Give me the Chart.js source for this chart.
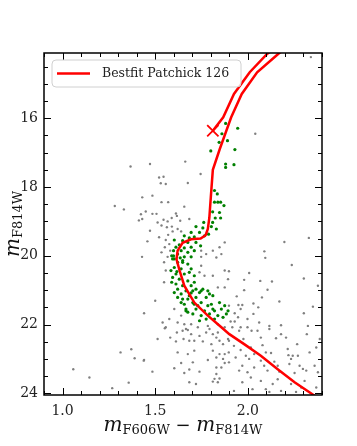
<!DOCTYPE html>
<html>
<head>
<meta charset="utf-8">
<script src="https://cdn.jsdelivr.net/npm/chart.js@4.4.1/dist/chart.umd.min.js"></script>
<style>
  html, body { margin: 0; padding: 0; background: #fff; }
  canvas { display: block; }
</style>
</head>
<body>
<canvas id="cmd" width="357" height="446"></canvas>
<script>
// ticks
const xTicks = [1.0, 1.5, 2.0];
const yTicks = [16, 18, 20, 22, 24];

// best fit isochrone (colour, magnitude), tip goes above the plot top
const isochrone = [
  [2.40, 24.25], [2.36, 24.07], [2.252, 23.68], [2.161, 23.30], [2.07, 22.91],
  [1.98, 22.57], [1.90, 22.28], [1.857, 22.08], [1.784, 21.74], [1.711, 21.36],
  [1.657, 20.87], [1.632, 20.44], [1.615, 20.10], [1.621, 19.85], [1.648, 19.62],
  [1.694, 19.52], [1.745, 19.50], [1.772, 19.40], [1.784, 19.22], [1.792, 18.90],
  [1.80, 18.30], [1.811, 17.50], [1.848, 16.90], [1.91, 15.97], [1.967, 15.29],
  [2.05, 14.66], [2.165, 14.12], [2.22, 13.90],
  [2.17, 13.88], [2.105, 14.12], [2.01, 14.66], [1.925, 15.29], [1.867, 15.97],
  [1.811, 16.36]
];
const endPoint = [[1.811, 16.36]];

// member stars (green)
const members = [
  [1.88,16.15],[1.945,16.29],[1.86,16.45],[1.89,16.65],[1.845,16.7],[1.93,16.91],[1.80,16.95],
  [1.88,17.33],[1.88,17.43],[1.925,17.35],
  [1.82,18.1],[1.835,18.2],[1.82,18.44],[1.838,18.44],[1.853,18.44],[1.871,18.54],[1.81,18.72],
  [1.847,18.74],[1.824,18.9],[1.853,18.9],[1.762,19.03],[1.81,19.03],[1.83,19.22],[1.803,19.15],
  [1.757,19.19],[1.72,19.15],[1.739,19.32],[1.694,19.32],[1.766,19.42],[1.788,19.37],[1.657,19.42],
  [1.711,19.45],[1.684,19.48],[1.603,19.54],[1.648,19.56],[1.676,19.61],[1.72,19.61],[1.745,19.71],
  [1.63,19.68],[1.612,19.75],[1.657,19.77],[1.694,19.75],[1.599,19.85],[1.64,19.85],[1.676,19.90],
  [1.711,19.85],[1.621,19.95],[1.589,20.0],[1.657,20.03],[1.694,20.03],[1.635,20.06],[1.603,20.09],
  [1.594,20.09],[1.621,20.19],[1.648,20.14],[1.676,20.24],[1.603,20.34],[1.64,20.38],[1.694,20.38],
  [1.612,20.53],[1.657,20.53],[1.711,20.58],[1.594,20.63],[1.63,20.68],[1.676,20.73],[1.612,20.82],
  [1.648,20.87],[1.694,20.87],[1.621,20.97],[1.666,21.02],[1.72,20.97],[1.757,20.97],[1.64,21.11],
  [1.694,21.08],[1.739,21.07],[1.784,21.02],[1.621,21.21],[1.676,21.26],[1.72,21.21],[1.775,21.21],
  [1.811,21.16],[1.657,21.41],[1.703,21.36],[1.748,21.36],[1.803,21.41],[1.847,21.36],[1.666,21.55],
  [1.72,21.55],[1.766,21.60],[1.811,21.55],[1.857,21.55],[1.703,21.69],[1.748,21.74],[1.793,21.69],
  [1.838,21.74],[1.884,21.69],[1.775,21.84],[1.82,21.84],[1.739,21.89],[1.585,20.43],[1.617,20.46],
  [1.684,20.48],[1.589,20.77],[1.711,20.77],[1.603,21.07],[1.648,21.26],[1.684,21.16],[1.73,21.45],
  [1.784,21.45],[1.875,21.45],[1.64,21.36],[1.676,21.64],[1.893,21.60],[1.866,21.79],
  [1.599,20.0],[1.648,20.19],[1.703,21.02],[1.748,21.02],[1.793,21.11],[1.82,21.6],[1.666,21.6],
  [1.711,21.41]
];

// field stars (grey)
const field = [
  [2.34,14.22],[2.04,16.45],
  [1.472,17.33],[1.662,17.26],[1.521,17.72],[1.545,17.70],[1.53,17.89],[1.557,17.91],[1.676,17.88],
  [1.745,17.62],[1.485,18.25],[1.43,18.30],[1.534,18.44],[1.57,18.44],[1.657,18.57],[1.449,18.71],
  [1.485,18.78],[1.507,18.78],[1.612,18.77],[1.617,18.84],[1.589,18.9],[1.43,18.93],[1.545,18.95],
  [1.513,19.03],[1.567,19.0],[1.635,18.98],[1.684,18.93],[1.534,19.12],[1.563,19.17],[1.59,19.15],
  [1.621,19.22],[1.64,19.29],[1.472,19.27],[1.594,19.29],[1.57,19.39],[1.521,19.46],[1.557,19.54],
  [1.458,19.58],[1.576,19.66],[1.552,19.75],[1.581,19.85],[1.534,19.90],[1.567,20.03],[1.748,19.85],
  [1.775,19.95],[1.811,19.85],[1.857,19.95],[1.875,19.61],[1.847,19.75],[1.748,20.03],[1.83,20.05],
  [1.367,17.40],[1.282,18.55],[1.331,18.65],[1.423,18.79],[1.412,18.97],[1.429,20.03],
  [2.329,19.48],[2.197,19.6],[2.089,19.87],[2.094,20.06],
  [1.44,21.67],[1.313,22.81],[1.371,22.72],[1.389,22.98],[1.438,23.05],[1.058,23.3],[1.145,23.54],
  [1.357,23.69],[1.268,23.85],[1.50,21.31],
  [1.548,20.19],[1.557,20.43],[1.548,20.77],[1.748,20.29],[1.739,20.48],[1.766,20.58],[1.811,20.58],
  [1.875,20.43],[1.893,20.68],[1.838,20.92],[1.875,20.92],[1.603,21.55],[1.576,21.84],[1.54,21.94],
  [1.621,21.94],[1.657,21.99],[1.694,21.99],[1.64,21.74],[1.784,22.04],[1.838,21.99],[1.875,22.08],
  [1.557,22.08],[1.73,22.08],[1.666,22.13],
  [1.552,22.11],[1.513,22.42],[1.581,22.38],[1.612,22.49],[1.617,22.23],[1.648,22.18],[1.676,22.16],
  [1.653,22.42],[1.684,22.47],[1.711,22.47],[1.739,22.33],[1.694,22.28],[1.757,22.49],[1.775,22.23],
  [1.793,22.13],[1.811,22.28],[1.83,22.38],[1.847,22.47],[1.803,22.57],[1.866,22.57],[1.893,22.42],
  [1.838,22.23],[1.621,22.81],[1.676,22.86],[1.711,22.76],[1.811,22.76],[1.847,22.86],[1.875,22.86],
  [1.83,22.96],[1.866,23.00],[1.44,23.03],[1.784,23.03],[1.64,23.12],[1.703,23.10],[1.603,23.27],
  [1.684,23.31],[1.739,23.37],[1.83,23.25],[1.857,23.25],[1.485,23.37],[1.657,23.41],[1.83,23.44],
  [1.82,23.58],[1.847,23.57],[1.684,23.68],[1.72,23.73],[1.811,23.66],[1.838,23.68],[1.875,23.12],
  [1.897,22.81],
  [1.898,20.45],[2.007,20.5],[2.237,20.27],[2.302,20.66],[1.98,20.70],[2.067,20.73],[2.13,20.75],
  [1.98,21.0],[2.106,20.99],[2.378,20.87],[1.94,21.18],[2.076,21.21],[2.17,21.33],[1.949,21.43],
  [1.97,21.43],[2.03,21.39],[2.056,21.50],[2.351,21.48],[1.961,21.55],[1.929,21.67],[2.03,21.69],
  [2.302,21.67],[1.947,21.79],[1.907,21.91],[1.929,21.91],[1.998,21.84],[2.061,21.94],[2.116,22.04],
  [2.179,22.02],[1.961,22.08],[1.916,22.08],[1.953,22.18],[2.02,22.18],[2.116,22.13],[2.324,22.04],
  [2.318,22.28],[2.388,22.42],[1.898,22.47],[1.976,22.42],[2.07,22.38],[2.152,22.40],[2.206,22.38],
  [2.266,22.57],[2.333,22.81],[2.369,22.67],[1.925,22.62],[1.961,22.74],[2.016,22.67],[2.079,22.60],
  [2.097,22.81],[1.989,22.91],[2.034,22.86],[2.125,22.83],[2.219,22.89],[2.242,22.91],[1.934,22.96],
  [2.007,23.0],[2.07,23.05],[2.143,23.08],[2.224,23.15],[2.279,23.2],[2.36,23.2],[1.97,23.2],
  [2.034,23.25],[1.953,23.34],[1.998,23.39],[2.106,23.34],[2.17,23.37],[2.252,23.41],[2.315,23.34],
  [2.016,23.54],[2.07,23.64],[2.161,23.59],[1.97,23.68],[2.134,23.73],[2.233,23.73],[2.288,23.83],
  [1.925,23.93],[2.025,23.88],[2.097,23.88],[2.116,23.96],[2.179,23.93],[2.26,23.96],[2.369,23.83],
  [2.306,23.64],[2.378,23.39],[2.233,23.0],[1.998,22.08],[2.052,22.18],[2.179,22.28],[2.215,22.71],
  [2.27,22.91],[2.297,23.29],[2.161,23.2],[2.088,23.2],[1.898,23.1],[1.898,21.45]
];

const legendLabel = 'Bestfit Patchick 126';
const FONT = "'DejaVu Serif', serif";

const toXY = arr => arr.map(p => ({ x: p[0], y: p[1] }));

// frame, inward ticks, legend and axis titles
const decorations = {
  id: 'decorations',
  afterDatasetsDraw(chart) {
    const ctx = chart.ctx;
    const a = chart.chartArea;
    const xs = chart.scales.x, ys = chart.scales.y;
    ctx.save();
    ctx.strokeStyle = '#000';
    ctx.lineWidth = 1;
    ctx.beginPath();
    const tick = (v, len, axis) => {
      if (axis === 'x') {
        const px = Math.round(xs.getPixelForValue(v)) + 0.5;
        ctx.moveTo(px, a.bottom); ctx.lineTo(px, a.bottom - len);
        ctx.moveTo(px, a.top); ctx.lineTo(px, a.top + len);
      } else {
        const py = Math.round(ys.getPixelForValue(v)) + 0.5;
        ctx.moveTo(a.left, py); ctx.lineTo(a.left + len, py);
        ctx.moveTo(a.right, py); ctx.lineTo(a.right - len, py);
      }
    };
    for (let i = 9; i <= 24; i++) tick(i / 10, xTicks.includes(i / 10) ? 7 : 4, 'x');
    for (let i = 29; i <= 48; i++) tick(i / 2, yTicks.includes(i / 2) ? 7 : 4, 'y');
    ctx.stroke();

    ctx.lineWidth = 1.5;
    ctx.strokeRect(a.left, a.top, a.right - a.left, a.bottom - a.top);

    // legend box
    const bx = 52, by = 60, bw = 189, bh = 27, r = 4;
    ctx.beginPath();
    ctx.moveTo(bx + r, by);
    ctx.arcTo(bx + bw, by, bx + bw, by + bh, r);
    ctx.arcTo(bx + bw, by + bh, bx, by + bh, r);
    ctx.arcTo(bx, by + bh, bx, by, r);
    ctx.arcTo(bx, by, bx + bw, by, r);
    ctx.closePath();
    ctx.fillStyle = 'rgba(255,255,255,0.8)';
    ctx.fill();
    ctx.strokeStyle = '#d0d0d0';
    ctx.lineWidth = 1;
    ctx.stroke();
    ctx.strokeStyle = 'red';
    ctx.lineWidth = 2.5;
    ctx.beginPath();
    ctx.moveTo(57, 73.5); ctx.lineTo(90, 73.5);
    ctx.stroke();
    ctx.fillStyle = '#222';
    ctx.font = '12.5px ' + FONT;
    ctx.textBaseline = 'middle';
    ctx.fillText(legendLabel, 102, 74);

    // axis titles with subscripts
    const mathLabel = (parts) => {
      let w = 0;
      parts.forEach(p => { ctx.font = p[1]; w += ctx.measureText(p[0]).width; });
      return w;
    };
    const drawParts = (parts, x0, base) => {
      let x = x0;
      parts.forEach(p => {
        ctx.font = p[1];
        ctx.fillText(p[0], x, base + p[2]);
        x += ctx.measureText(p[0]).width;
      });
    };
    const mFont = 'italic 20px ' + FONT, sFont = '13px ' + FONT, opFont = '18px ' + FONT;
    ctx.fillStyle = '#111';
    ctx.textBaseline = 'alphabetic';
    const xParts = [['m', mFont, 0], ['F606W', sFont, 3], [' \u2212 ', opFont, 0], ['m', mFont, 0], ['F814W', sFont, 3]];
    const xw = mathLabel(xParts);
    drawParts(xParts, (a.left + a.right) / 2 - xw / 2, 431);

    const yParts = [['m', mFont, 0], ['F814W', sFont, 3]];
    const yw = mathLabel(yParts);
    ctx.translate(19, (a.top + a.bottom) / 2);
    ctx.rotate(-Math.PI / 2);
    drawParts(yParts, -yw / 2, 0);
    ctx.restore();
  }
};

new Chart(document.getElementById('cmd'), {
  type: 'scatter',
  data: {
    datasets: [
      {
        label: legendLabel,
        data: toXY(isochrone),
        showLine: true,
        borderColor: 'red',
        borderWidth: 2.5,
        pointRadius: 0,
        tension: 0
      },
      {
        label: 'end',
        data: toXY(endPoint),
        pointStyle: 'crossRot',
        pointRadius: 8,
        borderColor: 'red',
        borderWidth: 1.8
      },
      {
        label: 'members',
        data: toXY(members),
        pointRadius: 1.6,
        borderWidth: 0,
        backgroundColor: 'green'
      },
      {
        label: 'field',
        data: toXY(field),
        pointRadius: 1.2,
        borderWidth: 0,
        backgroundColor: 'gray'
      }
    ]
  },
  options: {
    responsive: false,
    animation: false,
    devicePixelRatio: 1,
    layout: { padding: { top: 53, right: 35, left: 0, bottom: 0 } },
    plugins: { legend: { display: false }, tooltip: { enabled: false } },
    scales: {
      x: {
        type: 'linear',
        min: 0.9,
        max: 2.4,
        grid: { display: false, drawTicks: false },
        border: { display: false },
        afterBuildTicks: s => { s.ticks = xTicks.map(v => ({ value: v })); },
        afterFit: s => { s.height = 51; },
        ticks: {
          padding: 8,
          color: '#222',
          font: { family: FONT, size: 14 },
          callback: v => v.toFixed(1)
        }
      },
      y: {
        type: 'linear',
        reverse: true,
        min: 14.1,
        max: 24.05,
        grid: { display: false, drawTicks: false },
        border: { display: false },
        afterBuildTicks: s => { s.ticks = yTicks.map(v => ({ value: v })); },
        afterFit: s => { s.width = 44; },
        ticks: {
          padding: 6,
          color: '#222',
          font: { family: FONT, size: 14 },
          callback: v => String(v)
        }
      }
    }
  },
  plugins: [decorations]
});
</script>
</body>
</html>
